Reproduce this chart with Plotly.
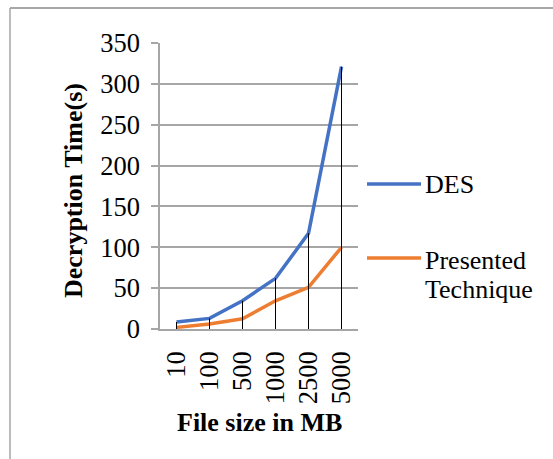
import plotly.graph_objects as go

categories = ["10", "100", "500", "1000", "2500", "5000"]
des = [8.5, 13, 34.5, 62, 117, 321]
presented = [2, 6, 12.5, 34.5, 51, 100]
y_ticks = [0, 50, 100, 150, 200, 250, 300, 350]

FONT = "Liberation Serif, Times New Roman, serif"
TICK = 26.5
TXT = 26

# drop lines from DES points down to axis
drop_x, drop_y = [], []
for c, v in zip(categories, des):
    drop_x += [c, c, None]
    drop_y += [0, v, None]

fig = go.Figure()
fig.add_trace(go.Scatter(x=categories, y=des, mode="lines", name="DES",
                         line=dict(color="#4472C4", width=3.5), showlegend=False))
fig.add_trace(go.Scatter(x=categories, y=presented, mode="lines", name="Presented Technique",
                         line=dict(color="#ED7D31", width=3.5), showlegend=False))
fig.add_trace(go.Scatter(x=drop_x, y=drop_y, mode="lines", hoverinfo="skip",
                         line=dict(color="black", width=1), showlegend=False))

L, R, T, B = 160, 195, 43, 130
W, H = 553, 459
pw, ph = W - L - R, H - T - B

def px(x):
    return (x - L) / pw

def py(y):
    return (H - B - y) / ph

shapes = [
    dict(type="line", xref="paper", yref="paper", x0=px(10), x1=px(600), y0=py(8), y1=py(8),
         line=dict(color="#8a8a8a", width=1.5)),
    dict(type="line", xref="paper", yref="paper", x0=px(10), x1=px(10), y0=py(8), y1=py(500),
         line=dict(color="#a6a6a6", width=1.5)),
    dict(type="line", xref="paper", yref="paper", x0=px(367), x1=px(421), y0=py(184), y1=py(184),
         line=dict(color="#4472C4", width=3.5)),
    dict(type="line", xref="paper", yref="paper", x0=px(367), x1=px(421), y0=py(258), y1=py(258),
         line=dict(color="#ED7D31", width=3.5)),
]

annotations = [
    dict(text="<b>File size in MB</b>", xref="paper", yref="paper", x=0.5, y=py(422),
         showarrow=False, font=dict(family=FONT, size=TXT, color="black"), xanchor="center", yanchor="middle"),
    dict(text="<b>Decryption Time(s)</b>", xref="paper", yref="paper", x=px(73), y=py(191),
         showarrow=False, textangle=-90, font=dict(family=FONT, size=TXT, color="black"),
         xanchor="center", yanchor="middle"),
    dict(text="DES", xref="paper", yref="paper", x=px(423), y=py(184), showarrow=False,
         font=dict(family=FONT, size=TXT, color="black"), xanchor="left", yanchor="middle"),
    dict(text="Presented", xref="paper", yref="paper", x=px(423), y=py(260), showarrow=False,
         font=dict(family=FONT, size=TXT, color="black"), xanchor="left", yanchor="middle"),
    dict(text="Technique", xref="paper", yref="paper", x=px(423), y=py(289), showarrow=False,
         font=dict(family=FONT, size=TXT, color="black"), xanchor="left", yanchor="middle"),
]

fig.update_layout(
    width=W, height=H,
    margin=dict(l=L, r=R, t=T, b=B, pad=0),
    paper_bgcolor="white", plot_bgcolor="white",
    font=dict(family=FONT, size=TICK, color="black"),
    shapes=shapes, annotations=annotations,
    xaxis=dict(type="category", categoryorder="array", categoryarray=categories,
               range=[-0.5, 5.5], showgrid=False, showline=True, linecolor="#a6a6a6", linewidth=1.5,
               tickangle=-90, ticks="", ticklabelstandoff=10, zeroline=False,
               tickfont=dict(family=FONT, size=TICK, color="black")),
    yaxis=dict(range=[0, 350], tickvals=y_ticks, showgrid=True, gridcolor="#a6a6a6", gridwidth=1.5,
               showline=True, linecolor="#a6a6a6", linewidth=1.5, ticks="outside", ticklen=7,
               tickcolor="#a6a6a6", tickwidth=1.5, zeroline=False, ticklabelstandoff=6,
               tickfont=dict(family=FONT, size=TICK, color="black")),
)

fig.write_html("out.html")
